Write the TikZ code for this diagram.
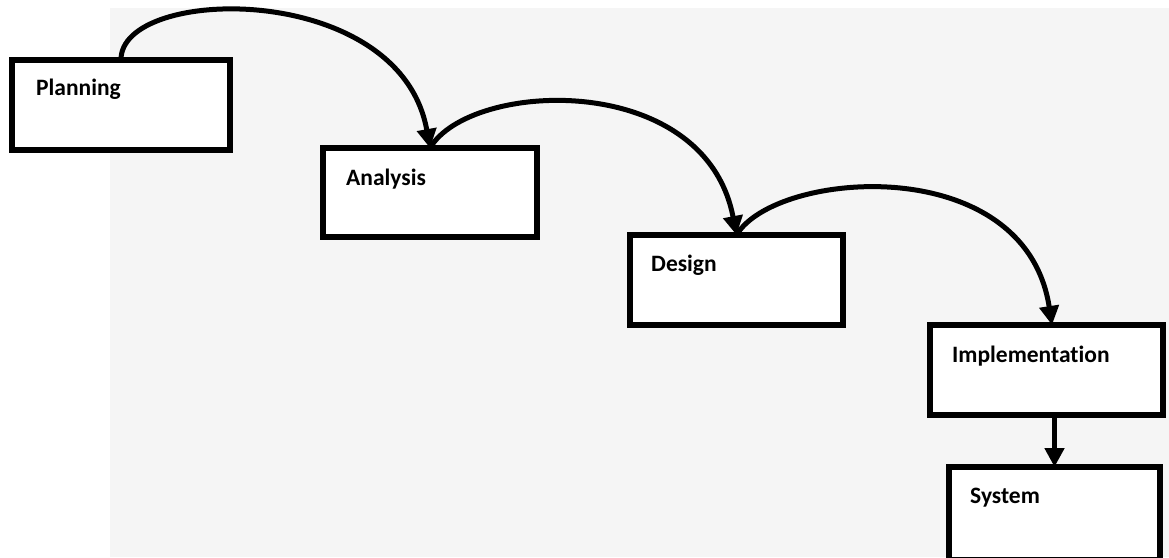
\documentclass[tikz,border=0pt]{standalone}
\usepackage{fontspec}
\setmainfont[Ligatures=NoCommon]{Carlito}
\usetikzlibrary{arrows.meta,calc}

\tikzset{
  stage/.style={draw=black, line width=5.5pt, fill=white, rectangle,
    inner sep=0pt, outer sep=0pt},
  stagelabel/.style={anchor=base west, inner sep=0pt,
    font=\fontsize{23.5}{28}\selectfont\bfseries},
  flow/.style={line width=5pt, draw=black,
    -{Triangle[length=19pt,width=19pt]}},
}

\begin{document}
\begin{tikzpicture}[x=1pt,y=-1pt]
  % page area
  \useasboundingbox (0,0) rectangle (1169,557);
  \clip (0,0) rectangle (1169,557);
  \fill[white] (0,0) rectangle (1169,557);
  \fill[black!4] (110,8) rectangle (1169,557);

  % stages of the waterfall
  \node[stage, minimum width=218pt, minimum height=90pt] (planning) at (121,105) {};
  \node[stage, minimum width=214pt, minimum height=89pt] (analysis) at (430,192.5) {};
  \node[stage, minimum width=213pt, minimum height=90pt] (design) at (736.5,280) {};
  \node[stage, minimum width=233pt, minimum height=90pt] (impl) at (1046.5,370) {};
  \node[stage, minimum width=211pt, minimum height=93pt] (system) at (1054.5,513.5) {};

  % stage names, set in the upper left of each box
  \node[stagelabel] (planning-t) at ($(planning.north west)+(24,35)$) {Planning};
  \node[stagelabel] (analysis-t) at ($(analysis.north west)+(23,37)$) {Analysis};
  \node[stagelabel] (design-t)   at ($(design.north west)+(21,36)$)   {Design};
  \node[stagelabel] (impl-t)     at ($(impl.north west)+(22,37)$)     {Implementation};
  \node[stagelabel] (system-t)   at ($(system.north west)+(21,36)$)   {System};

  % flow between stages
  \draw[flow] (planning.north) .. controls (120,-15) and (400,-20) .. (analysis.north);
  \draw[flow] (analysis.north) .. controls (470,80) and (705,70) .. (design.north);
  \draw[flow] (design.north) .. controls (775,170) and (1025,150) .. ($(impl.north)+(5.5,0)$);
  \draw[flow] (impl.south -| system.north) -- (system.north);
\end{tikzpicture}
\end{document}
